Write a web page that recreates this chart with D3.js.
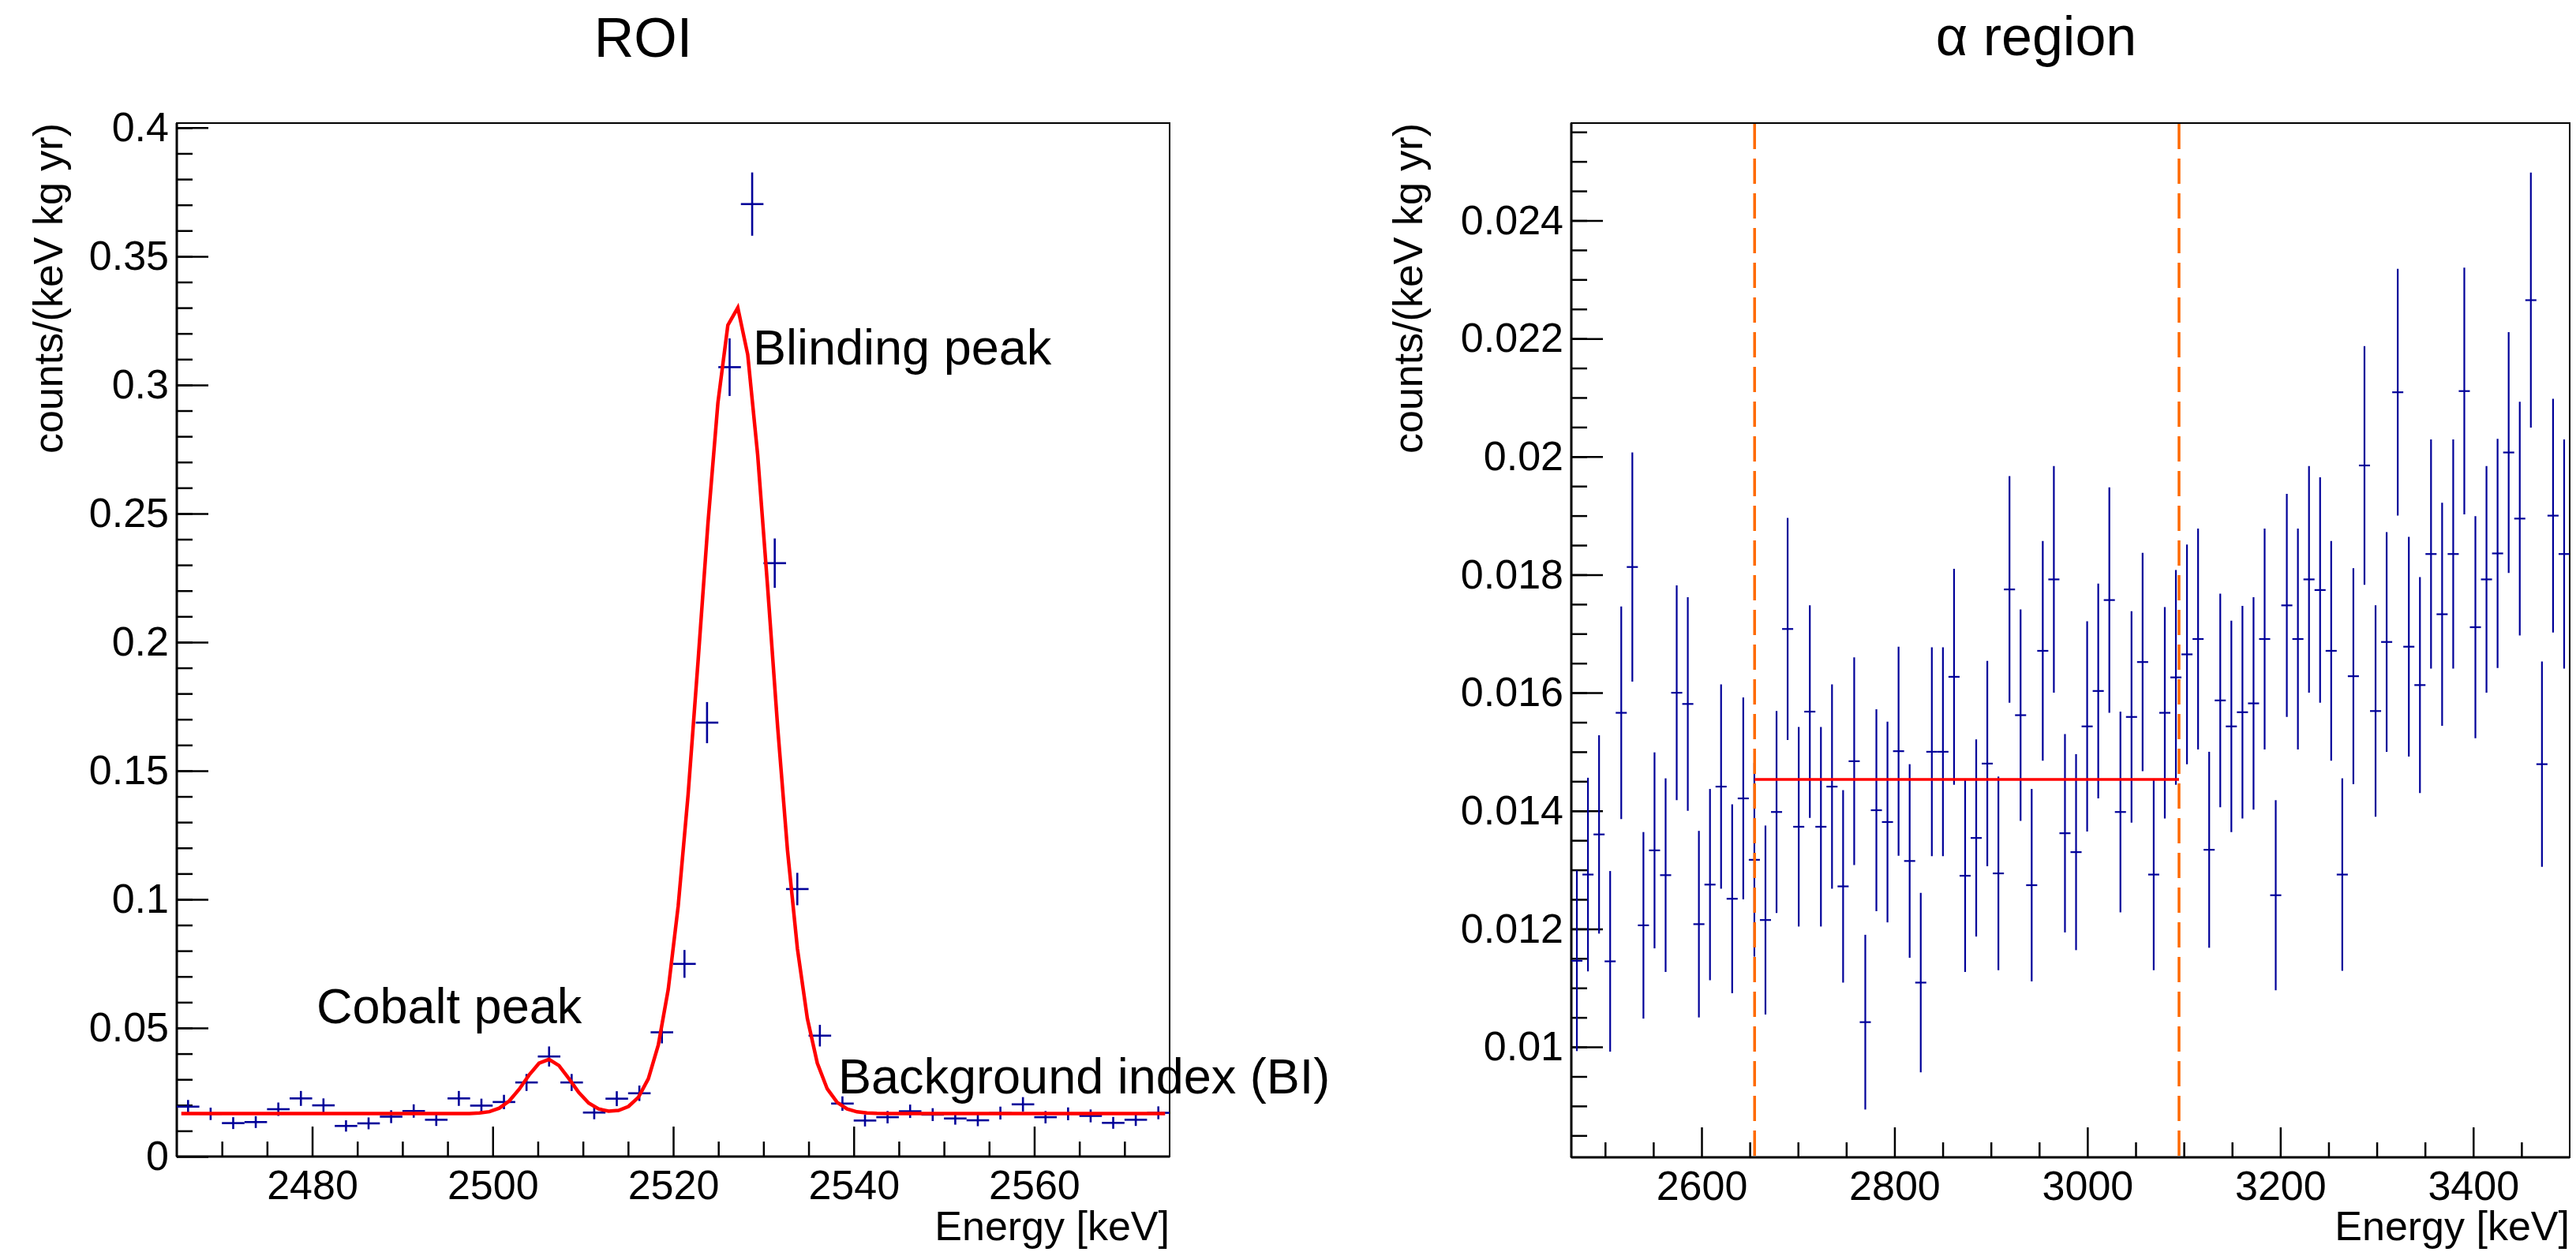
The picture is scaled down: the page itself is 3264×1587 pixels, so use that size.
<!DOCTYPE html>
<html>
<head>
<meta charset="utf-8">
<title>ROI / alpha region</title>
<script src="https://cdn.jsdelivr.net/npm/d3@7"></script>
<style>
  body { margin: 0; background: #fff; }
  svg text { font-family: 'Liberation Sans', Arial, Helvetica, sans-serif; fill: #000; }
</style>
</head>
<body>
<script>
'use strict';

// ROI spectrum, 2.5 keV bins starting at 2465 keV
const roiStart = 2465;
const roiBinWidth = 2.5;
const roiCounts = [
  0.0194, 0.0166, 0.0130, 0.0134, 0.0184, 0.0226, 0.0199, 0.0119, 0.0129, 0.0155,
  0.0177, 0.0143, 0.0226, 0.0198, 0.0212, 0.0288, 0.0389, 0.0288, 0.0171, 0.0225,
  0.0246, 0.0483, 0.0749, 0.1687, 0.3069, 0.3703, 0.2307, 0.1040, 0.0470, 0.0206,
  0.0140, 0.0153, 0.0176, 0.0163, 0.0148, 0.0141, 0.0169, 0.0203, 0.0153, 0.0166,
  0.0158, 0.0131, 0.0143, 0.0170
];
const roiErrors = [
  0.0026, 0.0024, 0.0023, 0.0023, 0.0026, 0.0029, 0.0027, 0.0022, 0.0023, 0.0025,
  0.0026, 0.0024, 0.0029, 0.0027, 0.0028, 0.0033, 0.0039, 0.0033, 0.0026, 0.0029,
  0.0030, 0.0043, 0.0054, 0.0080, 0.0112, 0.0123, 0.0096, 0.0063, 0.0042, 0.0028,
  0.0023, 0.0024, 0.0026, 0.0025, 0.0024, 0.0023, 0.0025, 0.0028, 0.0024, 0.0025,
  0.0025, 0.0023, 0.0024, 0.0025
];

// fit over the ROI: flat background + cobalt peak + blinding peak
const fitRange = [2465.5, 2574.5];
const fitSamples = 100;
const fitBackground = 0.0167;
const cobaltFit = [0.0211, 2506.1, 2.5];    // amplitude, mean, sigma
const blindingFit = [0.314, 2526.9, 3.85];

// alpha region spectrum, 11.5 keV bins starting at 2465 keV
const alphaStart = 2465;
const alphaBinWidth = 11.5;
const alphaCounts = [
  0.01146, 0.01292, 0.01360, 0.01145, 0.01566, 0.01813, 0.01206, 0.01333, 0.01291, 0.01600,
  0.01581, 0.01208, 0.01275, 0.01441, 0.01251, 0.01421, 0.01317, 0.01215, 0.01398, 0.01708,
  0.01373, 0.01568, 0.01373, 0.01441, 0.01272, 0.01484, 0.01042, 0.01401, 0.01381, 0.01501,
  0.01315, 0.01109, 0.01500, 0.01500, 0.01627, 0.01290, 0.01354, 0.01480, 0.01294, 0.01775,
  0.01562, 0.01274, 0.01671, 0.01792, 0.01362, 0.01330, 0.01543, 0.01603, 0.01757, 0.01398,
  0.01559, 0.01652, 0.01292, 0.01566, 0.01626, 0.01665, 0.01691, 0.01334, 0.01587, 0.01543,
  0.01567, 0.01582, 0.01691, 0.01257, 0.01748, 0.01691, 0.01792, 0.01774, 0.01671, 0.01292,
  0.01628, 0.01985, 0.01569, 0.01686, 0.02109, 0.01678, 0.01613, 0.01835, 0.01733, 0.01835,
  0.02111, 0.01711, 0.01792, 0.01836, 0.02007, 0.01895, 0.02265, 0.01479, 0.01900, 0.01835
];
const alphaErrors = [
  0.00153, 0.00164, 0.00168, 0.00153, 0.00180, 0.00194, 0.00158, 0.00166, 0.00164, 0.00182,
  0.00181, 0.00158, 0.00162, 0.00173, 0.00160, 0.00171, 0.00164, 0.00160, 0.00171, 0.00188,
  0.00169, 0.00180, 0.00169, 0.00173, 0.00163, 0.00176, 0.00148, 0.00171, 0.00170, 0.00177,
  0.00164, 0.00152, 0.00177, 0.00177, 0.00183, 0.00163, 0.00167, 0.00174, 0.00164, 0.00192,
  0.00179, 0.00163, 0.00186, 0.00192, 0.00168, 0.00166, 0.00178, 0.00182, 0.00191, 0.00170,
  0.00179, 0.00185, 0.00162, 0.00179, 0.00182, 0.00186, 0.00187, 0.00166, 0.00181, 0.00179,
  0.00180, 0.00180, 0.00187, 0.00161, 0.00189, 0.00187, 0.00192, 0.00191, 0.00186, 0.00163,
  0.00183, 0.00202, 0.00179, 0.00186, 0.00209, 0.00186, 0.00183, 0.00194, 0.00189, 0.00194,
  0.00209, 0.00188, 0.00192, 0.00194, 0.00204, 0.00198, 0.00216, 0.00174, 0.00198, 0.00194
];

// alpha window (dashed lines) and flat level inside it
const alphaWindow = [2655, 3095];
const alphaLevel = 0.01453;

// tick labels
const roiXTicks = [2480, 2500, 2520, 2540, 2560];
const roiYTicks = [0, 0.05, 0.1, 0.15, 0.2, 0.25, 0.3, 0.35, 0.4];
const alphaXTicks = [2600, 2800, 3000, 3200, 3400];
const alphaYTicks = [0.01, 0.012, 0.014, 0.016, 0.018, 0.02, 0.022, 0.024];

(function() {
  const W = 3264;
  const H = 1587;
  const blue = '#000099';

  const svg = d3
    .select('body')
    .append('svg')
    .attr('width', W)
    .attr('height', H);

  svg.append('rect').attr('width', W).attr('height', H).attr('fill', '#fff');

  // ---------- left pad: ROI ----------
  const xL = d3.scaleLinear().domain([2465, 2575]).range([224, 1482]);
  const yL = d3.scaleLinear().domain([0, 0.4018]).range([1466, 156]);

  drawAxes(xL, yL, roiXTicks, d3.range(2470, 2575, 5), roiYTicks,
    d3.range(0.01, 0.401, 0.01), d => (d === 0 ? '0' : String(+d.toFixed(2))));

  drawHist(xL, yL, roiStart, roiBinWidth, roiCounts, roiErrors, 2.6);

  // fit curve
  const gauss = (p, e) => p[0] * Math.exp(-((e - p[1]) ** 2) / (2 * p[2] * p[2]));
  const step = (fitRange[1] - fitRange[0]) / (fitSamples - 1);
  const fitPoints = d3.range(fitSamples).map(i => {
    const e = fitRange[0] + i * step;
    return [e, fitBackground + gauss(cobaltFit, e) + gauss(blindingFit, e)];
  });
  svg
    .append('path')
    .datum(fitPoints)
    .attr('fill', 'none')
    .attr('stroke', '#ff0000')
    .attr('stroke-width', 4.5)
    .attr('stroke-linejoin', 'miter')
    .attr('d', d3.line().x(d => xL(d[0])).y(d => yL(d[1])));

  addText(815, 72, 'ROI', 70, 'middle');
  addText(954, 462, 'Blinding peak', 63, 'start');
  addText(401, 1297, 'Cobalt peak', 63, 'start');
  addText(1062, 1386, 'Background index (BI)', 63, 'start');
  addText(1482, 1572, 'Energy [keV]', 52, 'end');
  svg
    .append('text')
    .attr('transform', 'translate(79,156)rotate(-90)')
    .attr('text-anchor', 'end')
    .style('font-size', '52px')
    .text('counts/(keV kg yr)');

  // ---------- right pad: alpha region ----------
  const xR = d3.scaleLinear().domain([2465, 3500]).range([1991, 3256]);
  const yR = d3.scaleLinear().domain([0.00813, 0.02565]).range([1467, 156]);

  drawAxes(xR, yR, alphaXTicks, d3.range(2500, 3500, 50), alphaYTicks,
    d3.range(0.0085, 0.0256, 0.0005), d => String(+d.toFixed(3)));

  drawHist(xR, yR, alphaStart, alphaBinWidth, alphaCounts, alphaErrors, 2.2);

  // flat level inside the window
  svg
    .append('line')
    .attr('x1', xR(alphaWindow[0]))
    .attr('x2', xR(alphaWindow[1]))
    .attr('y1', yR(alphaLevel))
    .attr('y2', yR(alphaLevel))
    .attr('stroke', '#ff0000')
    .attr('stroke-width', 3.5);

  // dashed window borders
  svg
    .selectAll('.window')
    .data(alphaWindow)
    .enter()
    .append('line')
    .attr('class', 'window')
    .attr('x1', d => xR(d))
    .attr('x2', d => xR(d))
    .attr('y1', 157)
    .attr('y2', 1469)
    .attr('stroke', '#ff6a00')
    .attr('stroke-width', 3.5)
    .attr('stroke-dasharray', '32,12');

  addText(2580, 70, 'α region', 70, 'middle');
  addText(3256, 1572, 'Energy [keV]', 52, 'end');
  svg
    .append('text')
    .attr('transform', 'translate(1802,156)rotate(-90)')
    .attr('text-anchor', 'end')
    .style('font-size', '52px')
    .text('counts/(keV kg yr)');

  // draw frame, major + minor ticks and tick labels
  function drawAxes(x, y, xMajor, xMinor, yMajor, yMinor, yFormat) {
    const x0 = x.range()[0];
    const x1 = x.range()[1];
    const y0 = y.range()[0];
    const y1 = y.range()[1];

    svg
      .append('rect')
      .attr('x', x0)
      .attr('y', y1)
      .attr('width', x1 - x0)
      .attr('height', y0 - y1)
      .attr('fill', 'none')
      .attr('stroke', '#000')
      .attr('stroke-width', 2);

    const styleAxis = g => {
      g.select('.domain').remove();
      g.attr('font-family', null).attr('font-size', null);
      g.selectAll('.tick line').attr('stroke', '#000').attr('stroke-width', 2.5);
      g.selectAll('.tick text').style('font-size', '52px');
    };

    svg
      .append('g')
      .attr('transform', 'translate(0,' + y0 + ')')
      .call(d3.axisBottom(x).tickValues(xMajor).tickSize(-38).tickPadding(17).tickFormat(d3.format('d')))
      .call(styleAxis);
    svg
      .append('g')
      .attr('transform', 'translate(0,' + y0 + ')')
      .call(d3.axisBottom(x).tickValues(xMinor.filter(v => !xMajor.includes(v))).tickSize(-19).tickFormat(''))
      .call(styleAxis);

    svg
      .append('g')
      .attr('transform', 'translate(' + x0 + ',0)')
      .call(d3.axisLeft(y).tickValues(yMajor).tickSize(-40).tickPadding(10).tickFormat(yFormat))
      .call(styleAxis);
    svg
      .append('g')
      .attr('transform', 'translate(' + x0 + ',0)')
      .call(d3.axisLeft(y).tickValues(yMinor).tickSize(-20).tickFormat(''))
      .call(styleAxis);

    // thicker axis lines on left and bottom
    svg.append('line').attr('x1', x0).attr('x2', x1).attr('y1', y0).attr('y2', y0)
      .attr('stroke', '#000').attr('stroke-width', 3);
    svg.append('line').attr('x1', x0).attr('x2', x0).attr('y1', y1).attr('y2', y0)
      .attr('stroke', '#000').attr('stroke-width', 3);
  }

  // histogram drawn as ROOT style error crosses
  function drawHist(x, y, start, width, values, errors, sw) {
    const bins = values.map((v, i) => ({
      lo: start + i * width,
      hi: start + (i + 1) * width,
      v: v,
      e: errors[i]
    }));
    const g = svg.append('g').attr('stroke', blue).attr('stroke-width', sw);

    g.selectAll('.hbar')
      .data(bins)
      .enter()
      .append('line')
      .attr('x1', d => x(d.lo))
      .attr('x2', d => x(d.hi))
      .attr('y1', d => y(d.v))
      .attr('y2', d => y(d.v));

    g.selectAll('.vbar')
      .data(bins)
      .enter()
      .append('line')
      .attr('x1', d => x((d.lo + d.hi) / 2))
      .attr('x2', d => x((d.lo + d.hi) / 2))
      .attr('y1', d => y(d.v - d.e))
      .attr('y2', d => y(d.v + d.e));
  }

  function addText(x, y, txt, size, anchor) {
    svg
      .append('text')
      .attr('x', x)
      .attr('y', y)
      .attr('text-anchor', anchor)
      .style('font-size', size + 'px')
      .text(txt);
  }
})();
</script>
</body>
</html>
